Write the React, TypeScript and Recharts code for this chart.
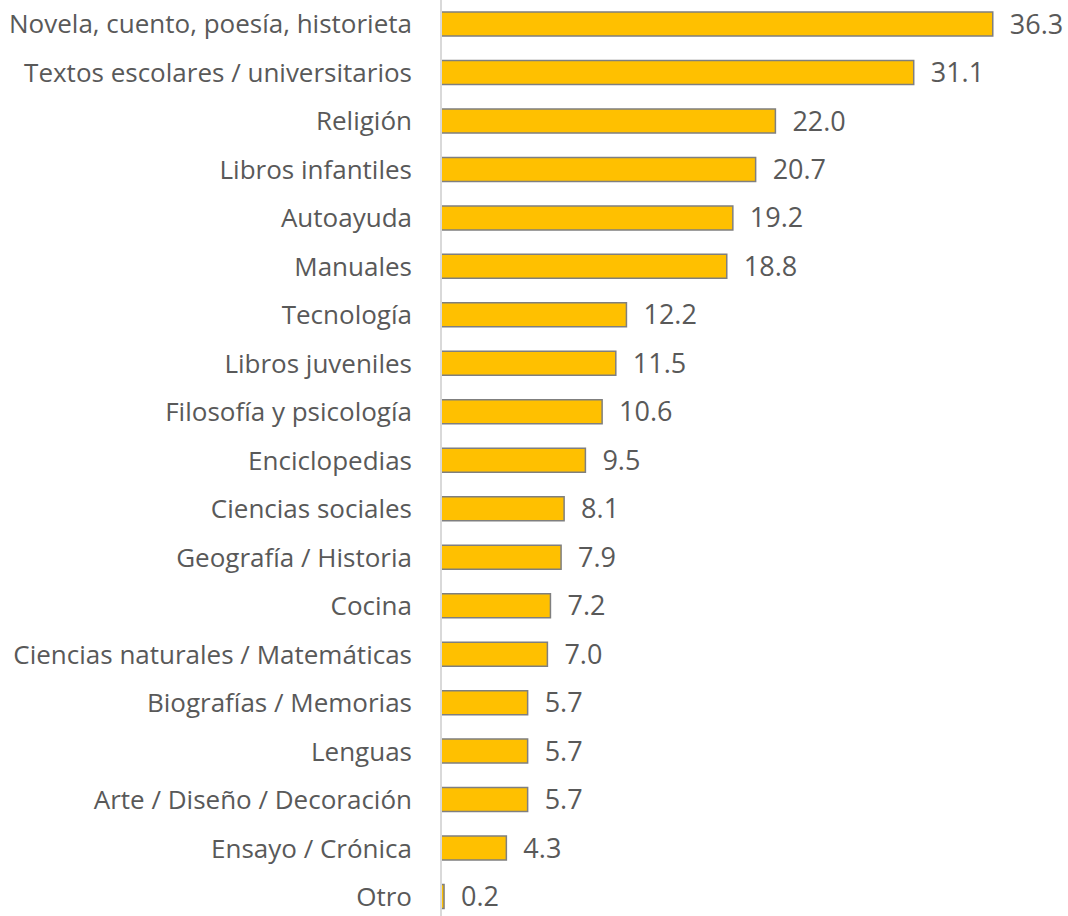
import React from 'react';
import { BarChart, Bar, XAxis, YAxis, LabelList } from 'recharts';

const categories = [
  'Novela, cuento, poesía, historieta',
  'Textos escolares / universitarios',
  'Religión',
  'Libros infantiles',
  'Autoayuda',
  'Manuales',
  'Tecnología',
  'Libros juveniles',
  'Filosofía y psicología',
  'Enciclopedias',
  'Ciencias sociales',
  'Geografía / Historia',
  'Cocina',
  'Ciencias naturales / Matemáticas',
  'Biografías / Memorias',
  'Lenguas',
  'Arte / Diseño / Decoración',
  'Ensayo / Crónica',
  'Otro',
];

const values = [36.3, 31.1, 22.0, 20.7, 19.2, 18.8, 12.2, 11.5, 10.6, 9.5, 8.1, 7.9, 7.2, 7.0, 5.7, 5.7, 5.7, 4.3, 0.2];

const data = categories.map((name, i) => ({ name, value: values[i] }));

const font = '"Open Sans", sans-serif';

export default function App() {
  return (
    <div style={{ position: 'absolute', left: 0, top: 0, width: 1068, height: 916, overflow: 'hidden', background: '#fff' }}>
      <BarChart
        width={1068}
        height={921}
        data={data}
        layout="vertical"
        margin={{ top: 0, right: 19, bottom: 0, left: 0 }}
      >
        <XAxis type="number" domain={[0, 40]} height={0} tick={false} tickLine={false} axisLine={false} />
        <YAxis
          type="category"
          dataKey="name"
          width={441}
          tickLine={false}
          axisLine={{ stroke: '#d9d9d9', strokeWidth: 2 }}
          tickMargin={23}
          interval={0}
          tick={{ fill: '#595959', fontSize: 26, fontFamily: font }}
        />
        <Bar dataKey="value" fill="#FFC000" stroke="#7f7f7f" strokeWidth={1.5} barSize={24} isAnimationActive={false}>
          <LabelList
            dataKey="value"
            position="right"
            offset={17}
            formatter={(v: any) => Number(v).toFixed(1)}
            style={{ fill: '#595959', fontSize: 27, fontFamily: font }}
          />
        </Bar>
      </BarChart>
    </div>
  );
}
